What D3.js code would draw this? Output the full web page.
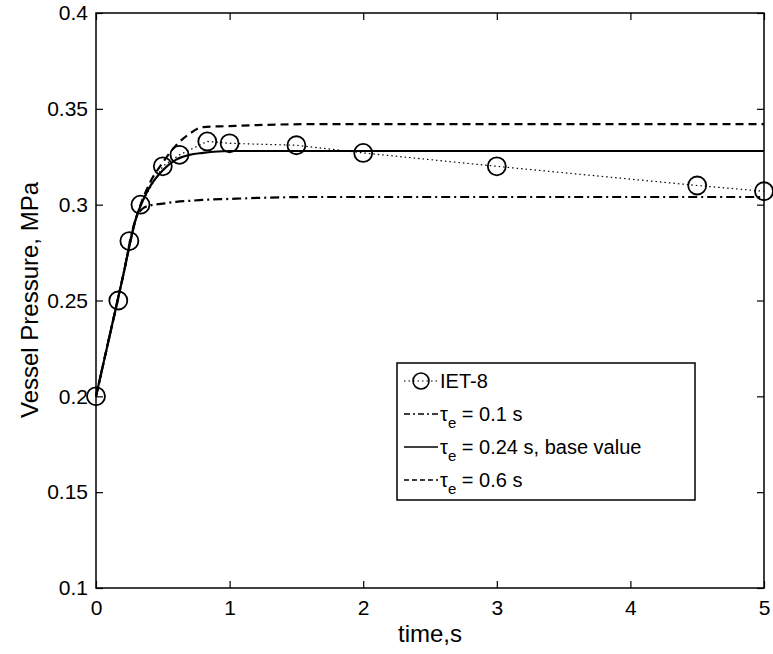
<!DOCTYPE html>
<html><head><meta charset="utf-8">
<script src="https://cdn.jsdelivr.net/npm/d3@7"></script>
<style>body{margin:0;background:#fff}text{font-family:"Liberation Sans",Arial,sans-serif}</style>
</head><body>
<script>
const expT = [0, 0.167, 0.25, 0.333, 0.5, 0.625, 0.833, 1, 1.5, 2, 3, 4.5, 5];
const expP = [0.2, 0.25, 0.281, 0.3, 0.32, 0.326, 0.333, 0.332, 0.331, 0.327, 0.32, 0.31, 0.307];
const curveT = [0, 0.1, 0.2, 0.3, 0.35, 0.4, 0.5, 0.6, 0.7, 0.8, 1.0, 1.2, 1.6, 2, 3, 4, 5];
const p01 = [0.2, 0.231, 0.262, 0.293, 0.298, 0.2995, 0.3005, 0.3015, 0.302, 0.3025, 0.303, 0.3035, 0.304, 0.304, 0.304, 0.304, 0.304];
const p024 = [0.2, 0.231, 0.262, 0.293, 0.302, 0.309, 0.318, 0.3235, 0.326, 0.327, 0.328, 0.328, 0.328, 0.328, 0.328, 0.328, 0.328];
const p06 = [0.2, 0.231, 0.262, 0.293, 0.303, 0.311, 0.322, 0.331, 0.337, 0.3405, 0.341, 0.3415, 0.342, 0.342, 0.342, 0.342, 0.342];
const xTicks = [0, 1, 2, 3, 4, 5];
const yTicks = [0.1, 0.15, 0.2, 0.25, 0.3, 0.35, 0.4];

const svg = d3.select("body").append("svg").attr("width", 773).attr("height", 654);
const x = d3.scaleLinear().domain([0, 5]).range([96, 764]);
const y = d3.scaleLinear().domain([0.1, 0.4]).range([588, 13]);

svg.append("rect").attr("x", 96).attr("y", 13).attr("width", 668).attr("height", 575)
    .attr("fill", "none").attr("stroke", "#000").attr("stroke-width", 1.5);

const fmt = d => d3.format("~g")(d);
svg.append("g").attr("transform", "translate(0,588)")
    .call(d3.axisBottom(x).tickValues(xTicks).tickSize(-7).tickPadding(12).tickFormat(fmt));
svg.append("g").attr("transform", "translate(96,0)")
    .call(d3.axisLeft(y).tickValues(yTicks).tickSize(-7).tickPadding(8).tickFormat(fmt));
svg.append("g").attr("transform", "translate(764,0)")
    .call(d3.axisRight(y).tickValues(yTicks).tickSize(-7).tickFormat(""));
svg.append("g").attr("transform", "translate(0,13)")
    .call(d3.axisTop(x).tickValues(xTicks).tickSize(-7).tickFormat(""));
svg.selectAll(".domain").remove();
svg.selectAll(".tick line").attr("stroke", "#000").attr("stroke-width", 1.2);
svg.selectAll(".tick text").attr("font-size", 21).attr("fill", "#000")
    .style("font-family", "Liberation Sans, Arial, sans-serif");

svg.append("text").attr("x", 430).attr("y", 642).attr("text-anchor", "middle")
    .attr("font-size", 24).text("time,s");
svg.append("text").attr("transform", "translate(38,300) rotate(-90)").attr("text-anchor", "middle")
    .attr("font-size", 24).text("Vessel Pressure, MPa");

const line = d3.line().x(d => x(d[0])).y(d => y(d[1])).curve(d3.curveMonotoneX);
const series = [
    {v: p01, dash: "9,4,2,4"},
    {v: p024, dash: null},
    {v: p06, dash: "8,5"}
];
series.forEach(s => {
    svg.append("path").datum(curveT.map((t, i) => [t, s.v[i]])).attr("d", line)
        .attr("fill", "none").attr("stroke", "#000").attr("stroke-width", 2.2)
        .attr("stroke-dasharray", s.dash);
});
svg.append("path").datum(expT.map((t, i) => [t, expP[i]]))
    .attr("d", d3.line().x(d => x(d[0])).y(d => y(d[1])))
    .attr("fill", "none").attr("stroke", "#000").attr("stroke-width", 1.2).attr("stroke-dasharray", "1.5,3");
svg.selectAll("circle.exp").data(expT).enter().append("circle")
    .attr("cx", d => x(d)).attr("cy", (d, i) => y(expP[i])).attr("r", 9)
    .attr("fill", "none").attr("stroke", "#000").attr("stroke-width", 1.8);

// legend
const lg = svg.append("g");
lg.append("rect").attr("x", 397).attr("y", 363).attr("width", 298).attr("height", 137)
    .attr("fill", "#fff").attr("stroke", "#000").attr("stroke-width", 1.5);
const items = [
    {label: "IET-8", dash: "1.5,3", w: 1.2, marker: true},
    {label: "τe = 0.1 s", dash: "6,3,2,3", w: 1.5},
    {label: "τe = 0.24 s, base value", dash: null, w: 1.5},
    {label: "τe = 0.6 s", dash: "5,3", w: 1.5}
];
items.forEach((it, i) => {
    const yy = 381 + i * 33;
    lg.append("line").attr("x1", 404).attr("x2", 438).attr("y1", yy).attr("y2", yy)
        .attr("stroke", "#000").attr("stroke-width", it.w).attr("stroke-dasharray", it.dash);
    if (it.marker) lg.append("circle").attr("cx", 421).attr("cy", yy).attr("r", 8)
        .attr("fill", "none").attr("stroke", "#000").attr("stroke-width", 1.6);
    const t = lg.append("text").attr("x", 440).attr("y", yy + 7).attr("font-size", 20);
    if (it.label.startsWith("τe")) {
        t.append("tspan").text("τ");
        t.append("tspan").attr("font-size", 15).attr("dy", 7).text("e");
        t.append("tspan").attr("dy", -7).text(it.label.slice(2));
    } else t.text(it.label);
});
</script>
</body></html>
